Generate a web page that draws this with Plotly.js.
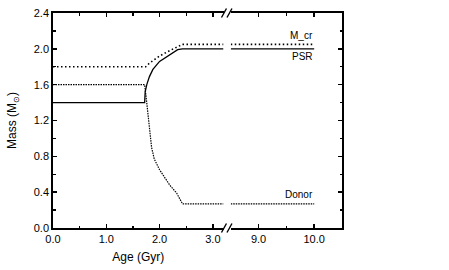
<!DOCTYPE html>
<html><head><meta charset="utf-8">
<script src="https://cdn.plot.ly/plotly-3.0.1.min.js"></script>
<style>html,body{margin:0;padding:0;background:#fff}</style>
</head><body>
<div id="chart" style="width:449px;height:270px"></div>
<script>
// Left segment (0 - 3.2 Gyr)
const psrAge   = [0, 1.72, 1.73, 1.76, 1.81, 1.875, 2.0, 2.19, 2.34, 2.43, 3.2];
const psrMass  = [1.4, 1.4, 1.52, 1.6, 1.69, 1.77, 1.86, 1.93, 1.99, 2.0, 2.0];
const mcrAge   = [0, 1.74, 1.81, 1.9, 2.0, 2.19, 2.37, 2.43, 3.2];
const mcrMass  = [1.8, 1.8, 1.84, 1.88, 1.92, 1.98, 2.03, 2.05, 2.05];
const donAge   = [0, 1.72, 1.75, 1.78, 1.81, 1.85, 1.9, 2.0, 2.1, 2.19, 2.32, 2.43, 3.2];
const donMass  = [1.6, 1.6, 1.45, 1.28, 1.09, 0.90, 0.77, 0.65, 0.56, 0.48, 0.39, 0.27, 0.27];
// Right segment (8.5 - 10 Gyr)
const lateAge  = [8.5, 10.0];
const psrLate  = [2.0, 2.0];
const mcrLate  = [2.05, 2.05];
const donLate  = [0.27, 0.27];
const labels   = ["M_cr", "PSR", "Donor"];
const labelY   = [2.15, 1.91, 0.37];

const psrLine = {color:'#000', width:1.3};
const mcrLine = {color:'#000', width:1.6, dash:'1.5px,2.5px'};
const donLine = {color:'#000', width:1.2, dash:'1.5px,1px'};

const traces = [
  {x:mcrAge, y:mcrMass, mode:'lines', line:mcrLine, xaxis:'x', yaxis:'y'},
  {x:donAge, y:donMass, mode:'lines', line:donLine, xaxis:'x', yaxis:'y'},
  {x:psrAge, y:psrMass, mode:'lines', line:psrLine, xaxis:'x', yaxis:'y'},
  {x:lateAge, y:mcrLate, mode:'lines', line:mcrLine, xaxis:'x2', yaxis:'y2'},
  {x:lateAge, y:donLate, mode:'lines', line:donLine, xaxis:'x2', yaxis:'y2'},
  {x:lateAge, y:psrLate, mode:'lines', line:psrLine, xaxis:'x2', yaxis:'y2'}
];

const font = {family:'Liberation Sans, Arial, sans-serif', size:11, color:'#000'};
const xcommon = {
  showline:true, linecolor:'#000', linewidth:1.8, mirror:'allticks',
  ticks:'inside', ticklen:4, tickwidth:1.4, tickcolor:'#000',
  showgrid:false, zeroline:false, tickformat:'.1f', tickfont:font,
  minor:{ticks:'inside', ticklen:2.5, tickwidth:1.2, tickcolor:'#000', dtick:0.5, showgrid:false}
};
const ycommon = {
  range:[0,2.4], dtick:0.4, tick0:0,
  showline:true, linecolor:'#000', linewidth:1.8,
  ticks:'inside', ticklen:4, tickwidth:1.4, tickcolor:'#000',
  showgrid:false, zeroline:false, tickformat:'.1f', tickfont:font,
  minor:{ticks:'inside', ticklen:2.5, tickwidth:1.2, tickcolor:'#000', dtick:0.2, showgrid:false}
};

const breakX = 0.602;
function slash(dx, yanchor){
  return {type:'line', xref:'paper', yref:'paper', xsizemode:'pixel', ysizemode:'pixel',
    xanchor:breakX, yanchor:yanchor, x0:dx-2.5, x1:dx+2.5, y0:-4.5, y1:4.5,
    line:{color:'#000', width:1.4}};
}

const layout = {
  width:449, height:270,
  margin:{l:53, r:107, t:13, b:42},
  paper_bgcolor:'#fff', plot_bgcolor:'#fff',
  showlegend:false,
  font:font,
  xaxis:Object.assign({}, xcommon, {domain:[0,0.59], range:[0,3.2], dtick:1, tick0:0, anchor:'y',
    title:{text:'Age (Gyr)', font:{family:font.family, size:12, color:'#000'}, standoff:8}}),
  xaxis2:Object.assign({}, xcommon, {domain:[0.615,1], range:[8.5,10.5], dtick:1, tick0:9, anchor:'y2'}),
  yaxis:Object.assign({}, ycommon, {anchor:'x', side:'left',
    title:{text:'Mass (M<sub>⊙</sub>)', font:{family:font.family, size:12, color:'#000'}, standoff:14}}),
  yaxis2:Object.assign({}, ycommon, {anchor:'x2', side:'right', matches:'y', showticklabels:false}),
  shapes:[slash(-3,1), slash(2.5,1), slash(-3,0), slash(2.5,0)],
  annotations:labels.map((t,i)=>({text:t, x:10.02, y:labelY[i], xref:'x2', yref:'y2',
    xanchor:'right', yanchor:'middle', showarrow:false,
    font:{family:font.family, size:10, color:'#000'}}))
};

Plotly.newPlot('chart', traces, layout, {displayModeBar:false, staticPlot:true});
</script>
</body></html>
